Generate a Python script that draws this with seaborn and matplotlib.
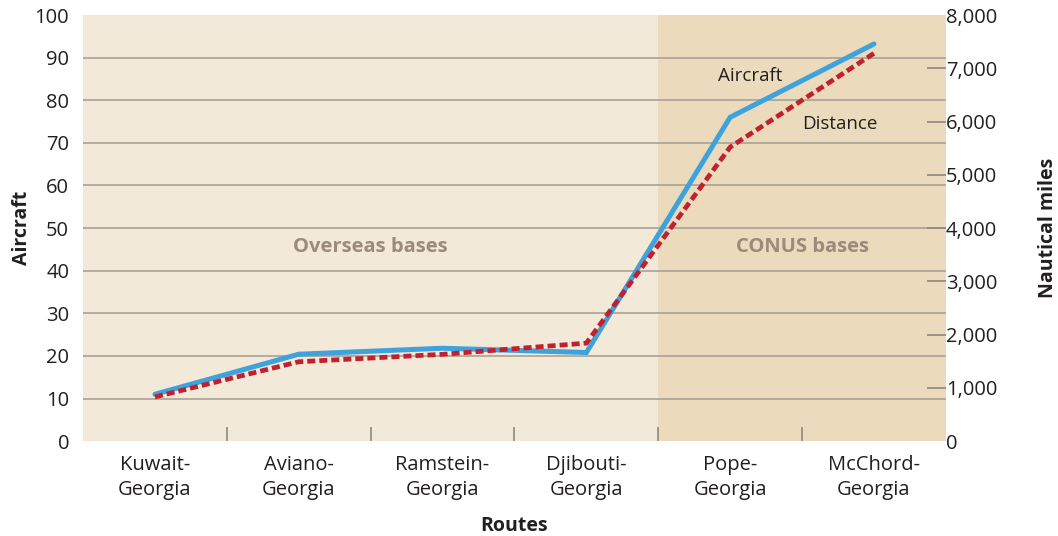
import matplotlib
matplotlib.use("Agg")
import matplotlib.pyplot as plt
import matplotlib.ticker as mticker
import seaborn as sns
import pandas as pd

# Route data
routes = ["Kuwait-\nGeorgia", "Aviano-\nGeorgia", "Ramstein-\nGeorgia",
          "Djibouti-\nGeorgia", "Pope-\nGeorgia", "McChord-\nGeorgia"]
aircraft = [11, 20.4, 21.8, 20.8, 76, 93.2]
distance_nm = [830, 1490, 1630, 1840, 5520, 7280]
region_labels = ["Overseas bases", "CONUS bases"]
left_ticks = [0, 10, 20, 30, 40, 50, 60, 70, 80, 90, 100]
right_ticks = [0, 1000, 2000, 3000, 4000, 5000, 6000, 7000, 8000]

sns.set_theme(style="white")
plt.rcParams["font.family"] = ["Open Sans", "DejaVu Sans"]

TEXT = "#231f20"
GRID = "#aaa296"
BLUE = "#3ea3dc"
RED = "#c1202f"

pos = list(range(len(routes)))
df = pd.DataFrame({"pos": pos, "aircraft": aircraft, "distance": distance_nm})

fig = plt.figure(figsize=(10.58, 5.36), dpi=100)
ax = fig.add_axes([0.0785, 0.177, 0.8155, 0.795])
ax2 = ax.twinx()

# Background bands for overseas and CONUS routes
ax.set_xlim(-0.5, len(routes) - 0.5)
ax.axvspan(-0.5, 3.5, color="#f3e9d8", zorder=0, lw=0)
ax.axvspan(3.5, len(routes) - 0.5, color="#ebdabb", zorder=0, lw=0)

ax.set_ylim(0, 100)
ax2.set_ylim(0, 8000)
for y in left_ticks[1:-1]:
    ax.axhline(y, color=GRID, lw=1.2, zorder=1)

ax.text(1.5, 45.5, region_labels[0], ha="center", va="center",
        fontsize=14.5, fontweight="bold", color="#9b8b7a")
ax.text(4.5, 45.5, region_labels[1], ha="center", va="center",
        fontsize=14.5, fontweight="bold", color="#9b8b7a")

sns.lineplot(data=df, x="pos", y="aircraft", ax=ax, color=BLUE,
             lw=3.6, zorder=3, solid_joinstyle="miter")
sns.lineplot(data=df, x="pos", y="distance", ax=ax2, color=RED,
             lw=3.4, zorder=4)
ax2.lines[0].set_dashes((1.7, 0.85))
ax2.lines[0].set_dash_capstyle("butt")

ax.text(4.14, 85.8, "Aircraft", ha="center", va="center", fontsize=13.5, color=TEXT)
ax.text(4.76, 74.5, "Distance", ha="center", va="center", fontsize=13.5, color=TEXT)

# x axis: labels at category centres, ticks at category boundaries
ax.set_xticks(pos)
ax.set_xticklabels(routes, fontsize=14.5, color=TEXT, linespacing=1.3)
ax.xaxis.set_minor_locator(mticker.FixedLocator([i + 0.5 for i in pos[:-1]]))
ax.tick_params(axis="x", which="major", length=0, pad=10)
ax.tick_params(axis="x", which="minor", direction="in", length=10,
               width=1.2, color="#8f887e", bottom=True)

ax.set_yticks(left_ticks)
ax.set_yticklabels([str(v) for v in left_ticks], fontsize=14.5, color=TEXT)
ax.tick_params(axis="y", length=0, pad=10)

ax2.set_yticks(right_ticks)
ax2.set_yticklabels([f"{v:,}" for v in right_ticks], fontsize=14.5, color=TEXT)
ax2.tick_params(axis="y", direction="in", length=14, width=1.2,
                color="#8f887e", pad=0)
# no tick marks on the frame edges at 0 and 8,000
for tk in (ax2.yaxis.get_major_ticks()[0], ax2.yaxis.get_major_ticks()[-1]):
    tk.tick1line.set_visible(False)
    tk.tick2line.set_visible(False)

ax.set_xlabel("Routes", fontsize=14, fontweight="bold", color=TEXT, labelpad=12)
ax.set_ylabel("Aircraft", fontsize=14, fontweight="bold", color=TEXT, labelpad=2)
ax2.set_ylabel("Nautical miles", fontsize=14, fontweight="bold", color=TEXT,
               labelpad=29)

for a in (ax, ax2):
    for s in a.spines.values():
        s.set_visible(False)
ax.set_facecolor("none")
ax2.set_zorder(ax.get_zorder() + 1)
ax2.patch.set_visible(False)

fig.savefig("out.png", dpi=100, facecolor="white")
